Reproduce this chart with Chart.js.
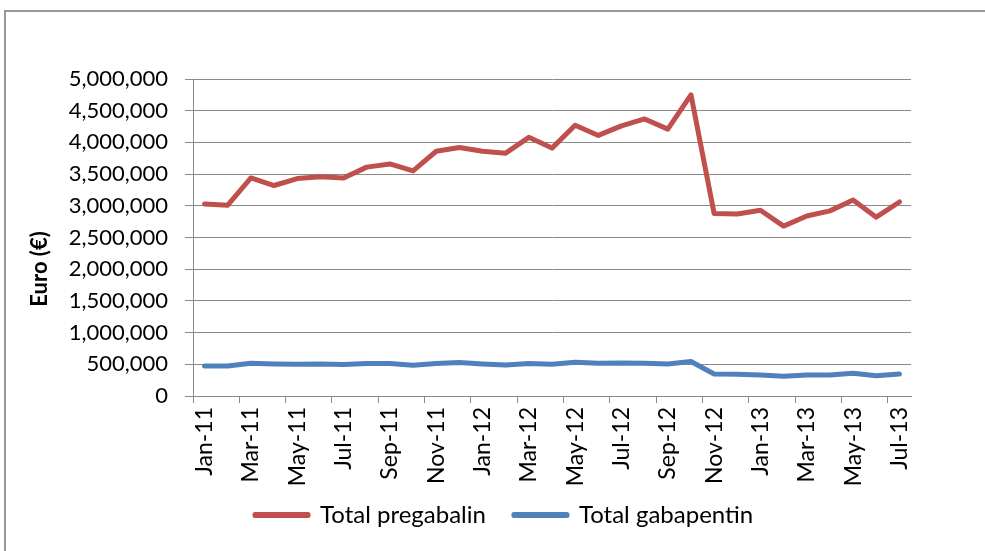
<!DOCTYPE html>
<html>
<head>
<meta charset="utf-8">
<script src="https://cdn.jsdelivr.net/npm/chart.js@4/dist/chart.umd.min.js"></script>
<style>
  body { margin: 0; background: #fff; }
</style>
</head>
<body>
<canvas id="costs" width="985" height="551"></canvas>
<script>
const months = [
  "Jan-11", "Feb-11", "Mar-11", "Apr-11", "May-11", "Jun-11", "Jul-11", "Aug-11",
  "Sep-11", "Oct-11", "Nov-11", "Dec-11", "Jan-12", "Feb-12", "Mar-12", "Apr-12",
  "May-12", "Jun-12", "Jul-12", "Aug-12", "Sep-12", "Oct-12", "Nov-12", "Dec-12",
  "Jan-13", "Feb-13", "Mar-13", "Apr-13", "May-13", "Jun-13", "Jul-13",
];
const pregabalin = [
  3030000, 3010000, 3440000, 3320000, 3430000, 3460000, 3440000, 3610000,
  3660000, 3550000, 3860000, 3920000, 3860000, 3830000, 4080000, 3910000,
  4270000, 4110000, 4260000, 4370000, 4210000, 4750000, 2880000, 2870000,
  2930000, 2680000, 2840000, 2920000, 3090000, 2820000, 3060000,
];
const gabapentin = [
  473000, 473000, 516000, 505000, 500000, 505000, 495000, 511000,
  511000, 484000, 511000, 527000, 505000, 489000, 511000, 500000,
  533000, 516000, 522000, 516000, 505000, 543000, 348000, 342000,
  332000, 310000, 332000, 332000, 359000, 321000, 348000,
];
const yTicks = [0, 500000, 1000000, 1500000, 2000000, 2500000, 3000000, 3500000, 4000000, 4500000, 5000000];
const yTitle = "Euro (€)";

const font = "Lato, 'Open Sans', sans-serif";
const gridGray = "#8a8a8a";

// frame around the chart, y axis title, legend placement
const extras = {
  id: "extras",
  afterLayout(chart) {
    const lg = chart.legend;
    const h = lg.height;
    lg.left = 227;
    lg.top = 475;
    lg.bottom = lg.top + h;
  },
  beforeDraw(chart) {
    const c = chart.ctx;
    c.save();
    c.fillStyle = "#fff";
    c.fillRect(0, 0, chart.width, chart.height);
    c.strokeStyle = "#999";
    c.lineWidth = 2;
    c.strokeRect(5, 11, 1000, 600);
    c.restore();
  },
  afterDraw(chart) {
    const c = chart.ctx;
    c.save();
    c.translate(40, 269);
    c.rotate(-Math.PI / 2);
    c.font = "bold 22px " + font;
    c.fillStyle = "#000";
    c.textAlign = "center";
    c.textBaseline = "middle";
    c.fillText(yTitle, 0, 0);
    c.restore();
  },
};

const ctx = document.getElementById("costs").getContext("2d");

let costChart = new Chart(ctx, {
  type: "line",
  data: {
    labels: months,
    datasets: [
      {
        label: "Total pregabalin",
        data: pregabalin,
        borderColor: "#C0504D",
        backgroundColor: "#C0504D",
        borderWidth: 5,
        pointRadius: 0,
        borderJoinStyle: "round",
        borderCapStyle: "round",
        tension: 0,
      },
      {
        label: "Total gabapentin",
        data: gabapentin,
        borderColor: "#4F81BD",
        backgroundColor: "#4F81BD",
        borderWidth: 5,
        pointRadius: 0,
        borderJoinStyle: "round",
        borderCapStyle: "round",
        tension: 0,
      },
    ],
  },
  options: {
    responsive: false,
    animation: false,
    layout: {
      padding: { left: 0, right: 74, top: 79, bottom: 0 },
    },
    plugins: {
      tooltip: { enabled: false },
      legend: {
        position: "bottom",
        align: "start",
        labels: {
          boxWidth: 53,
          boxHeight: 1,
          padding: 28,
          color: "#000",
          font: { family: font, size: 24 },
        },
      },
    },
    scales: {
      x: {
        offset: true,
        afterFit(scale) {
          scale.height = 93;
        },
        grid: {
          offset: true,
          drawOnChartArea: false,
          tickLength: 7,
          color: (c) => (c.index % 2 === 0 ? gridGray : "rgba(0,0,0,0)"),
        },
        border: { color: gridGray, width: 1 },
        ticks: {
          autoSkip: false,
          minRotation: 90,
          maxRotation: 90,
          padding: 4,
          color: "#000",
          font: { family: font, size: 23 },
          callback: (v, i) => (i % 2 === 0 ? months[i] : ""),
        },
      },
      y: {
        min: 0,
        max: 5000000,
        afterFit(scale) {
          scale.width = 193;
        },
        afterBuildTicks(scale) {
          scale.ticks = yTicks.map((v) => ({ value: v }));
        },
        grid: {
          color: gridGray,
          tickLength: 8,
        },
        border: { color: gridGray, width: 1 },
        ticks: {
          padding: 17,
          color: "#000",
          font: { family: font, size: 22 },
          callback: (v) => v.toLocaleString("en-US"),
        },
      },
    },
  },
  plugins: [extras],
});
</script>
</body>
</html>
